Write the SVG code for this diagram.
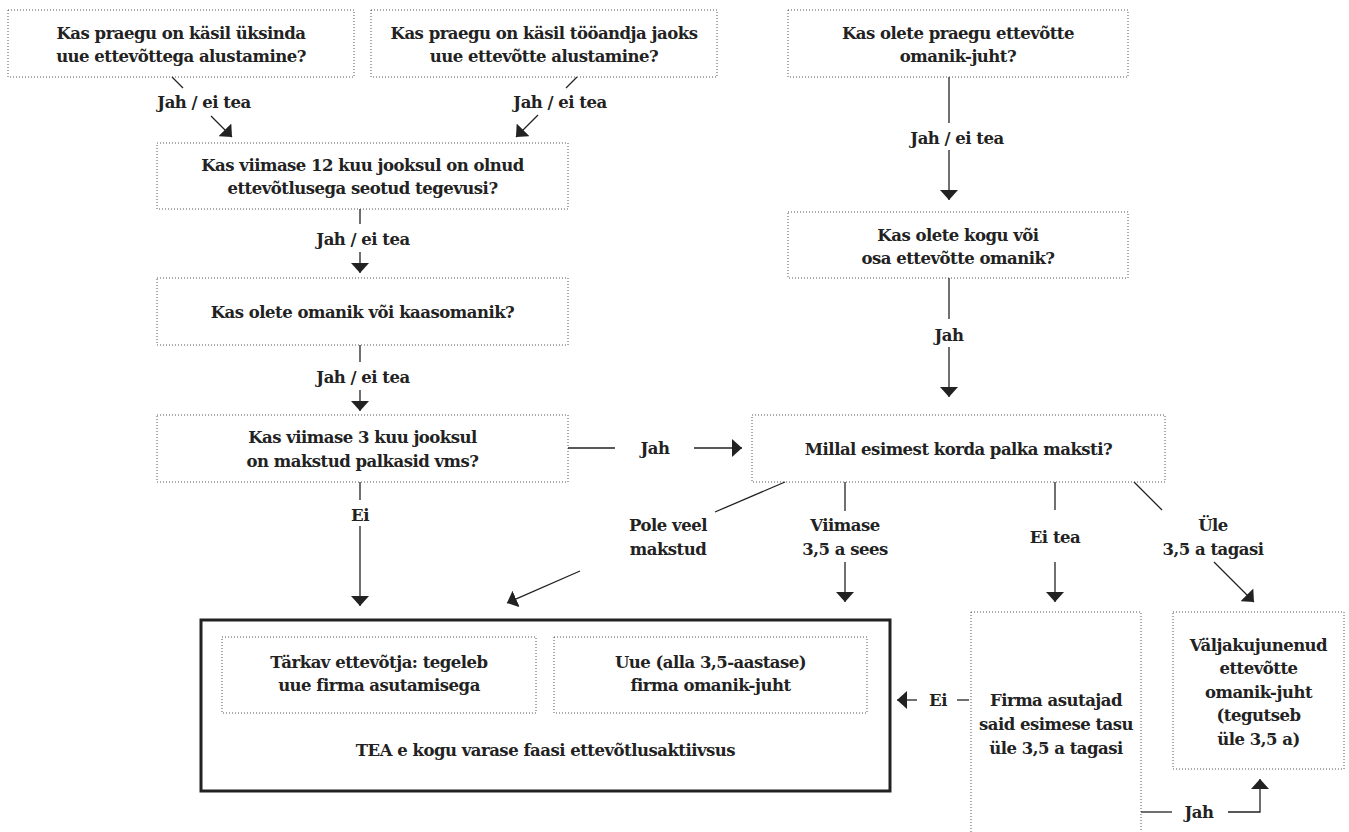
<svg xmlns="http://www.w3.org/2000/svg" width="1349" height="832" viewBox="0 0 1349 832">
<defs>
<marker id="ah" viewBox="0 0 10 18" refX="10" refY="9" markerWidth="10" markerHeight="18" markerUnits="userSpaceOnUse" orient="auto">
<path d="M0,0 L10,9 L0,18 z" fill="#222"/>
</marker>
</defs>
<style>
.box{fill:none;stroke:#555;stroke-width:1;stroke-dasharray:1 2}
.main{fill:none;stroke:#222;stroke-width:3}
.t{font-family:"DejaVu Serif","Liberation Serif",serif;font-weight:bold;font-size:16.5px;letter-spacing:-0.5px;fill:#222;text-anchor:middle}
.c{fill:none;stroke:#222;stroke-width:1.3}
.a{marker-end:url(#ah)}
</style>
<rect width="1349" height="832" fill="#fff"/>

<g id="n1">
<rect class="box" x="8" y="10" width="346" height="67"/>
<text class="t" x="181" y="39">Kas praegu on käsil üksinda</text>
<text class="t" x="181" y="62">uue ettevõttega alustamine?</text>
</g>
<g id="n2">
<rect class="box" x="371" y="10" width="346" height="67"/>
<text class="t" x="544" y="39">Kas praegu on käsil tööandja jaoks</text>
<text class="t" x="544" y="62">uue ettevõtte alustamine?</text>
</g>
<g id="n3">
<rect class="box" x="788" y="10" width="340" height="67"/>
<text class="t" x="958" y="39">Kas olete praegu ettevõtte</text>
<text class="t" x="958" y="62">omanik-juht?</text>
</g>
<g id="n4">
<rect class="box" x="157" y="143" width="411" height="66"/>
<text class="t" x="362.5" y="171">Kas viimase 12 kuu jooksul on olnud</text>
<text class="t" x="362.5" y="194">ettevõtlusega seotud tegevusi?</text>
</g>
<g id="n5">
<rect class="box" x="157" y="278" width="411" height="67"/>
<text class="t" x="362.5" y="318">Kas olete omanik või kaasomanik?</text>
</g>
<g id="n6">
<rect class="box" x="157" y="415" width="411" height="67"/>
<text class="t" x="362.5" y="443">Kas viimase 3 kuu jooksul</text>
<text class="t" x="362.5" y="467">on makstud palkasid vms?</text>
</g>
<g id="n7">
<rect class="box" x="788" y="212" width="340" height="66"/>
<text class="t" x="958" y="241">Kas olete kogu või</text>
<text class="t" x="958" y="264">osa ettevõtte omanik?</text>
</g>
<g id="n8">
<rect class="box" x="752" y="415" width="413" height="67"/>
<text class="t" x="958.5" y="455">Millal esimest korda palka maksti?</text>
</g>
<g id="n9">
<rect class="main" x="201" y="620" width="689" height="171"/>
<text class="t" x="545.5" y="756">TEA e kogu varase faasi ettevõtlusaktiivsus</text>
</g>
<g id="n10">
<rect class="box" x="222" y="637" width="314" height="76"/>
<text class="t" x="379" y="668">Tärkav ettevõtja: tegeleb</text>
<text class="t" x="379" y="691">uue firma asutamisega</text>
</g>
<g id="n11">
<rect class="box" x="554" y="637" width="313" height="76"/>
<text class="t" x="710.5" y="668">Uue (alla 3,5-aastase)</text>
<text class="t" x="710.5" y="691">firma omanik-juht</text>
</g>
<g id="n12">
<rect class="box" x="971" y="612" width="170" height="240"/>
<text class="t" x="1056" y="706">Firma asutajad</text>
<text class="t" x="1056" y="730">said esimese tasu</text>
<text class="t" x="1056" y="754">üle 3,5 a tagasi</text>
</g>
<g id="n13">
<rect class="box" x="1173" y="612" width="171" height="157"/>
<text class="t" x="1258.5" y="651">Väljakujunenud</text>
<text class="t" x="1258.5" y="674">ettevõtte</text>
<text class="t" x="1258.5" y="698">omanik-juht</text>
<text class="t" x="1258.5" y="721">(tegutseb</text>
<text class="t" x="1258.5" y="745">üle 3,5 a)</text>
</g>

<g id="connectors">
<line class="c" x1="172" y1="77" x2="183" y2="88"/>
<line class="c a" x1="211" y1="116" x2="232" y2="137"/>
<text class="t" x="204" y="108">Jah / ei tea</text>

<line class="c" x1="577" y1="77" x2="566" y2="88"/>
<line class="c a" x1="538" y1="115" x2="516" y2="137"/>
<text class="t" x="560" y="108">Jah / ei tea</text>

<line class="c" x1="360" y1="209" x2="360" y2="224"/>
<line class="c a" x1="360" y1="252" x2="360" y2="273"/>
<text class="t" x="363" y="245">Jah / ei tea</text>

<line class="c" x1="360" y1="345" x2="360" y2="362"/>
<line class="c a" x1="360" y1="390" x2="360" y2="411"/>
<text class="t" x="363" y="383">Jah / ei tea</text>

<line class="c" x1="360" y1="482" x2="360" y2="500"/>
<line class="c a" x1="360" y1="526" x2="360" y2="606"/>
<text class="t" x="360" y="521">Ei</text>

<line class="c" x1="568" y1="448" x2="615" y2="448"/>
<line class="c a" x1="694" y1="448" x2="742" y2="448"/>
<text class="t" x="655" y="454">Jah</text>

<line class="c" x1="949" y1="77" x2="949" y2="123"/>
<line class="c a" x1="949" y1="150" x2="949" y2="200"/>
<text class="t" x="957" y="144">Jah / ei tea</text>

<line class="c" x1="949" y1="278" x2="949" y2="319"/>
<line class="c a" x1="949" y1="347" x2="949" y2="397"/>
<text class="t" x="949" y="341">Jah</text>

<line class="c" x1="785" y1="482" x2="715" y2="512"/>
<line class="c a" x1="580" y1="571" x2="507" y2="603"/>
<text class="t" x="668" y="531">Pole veel</text>
<text class="t" x="668" y="555">makstud</text>

<line class="c" x1="845" y1="482" x2="845" y2="511"/>
<line class="c a" x1="845" y1="562" x2="845" y2="602"/>
<text class="t" x="845" y="531">Viimase</text>
<text class="t" x="845" y="555">3,5 a sees</text>

<line class="c" x1="1055" y1="482" x2="1055" y2="510"/>
<line class="c a" x1="1055" y1="562" x2="1055" y2="602"/>
<text class="t" x="1055" y="543">Ei tea</text>

<line class="c" x1="1134" y1="482" x2="1162" y2="510"/>
<line class="c a" x1="1214" y1="562" x2="1254" y2="602"/>
<text class="t" x="1213" y="531">Üle</text>
<text class="t" x="1213" y="555">3,5 a tagasi</text>

<line class="c a" x1="917" y1="700" x2="897" y2="700"/>
<line class="c" x1="957" y1="700" x2="969" y2="700"/>
<text class="t" x="938" y="706">Ei</text>

<line class="c" x1="1141" y1="812" x2="1172" y2="812"/>
<polyline class="c a" points="1228,812 1260,812 1260,779"/>
<text class="t" x="1199" y="818">Jah</text>
</g>
</svg>
